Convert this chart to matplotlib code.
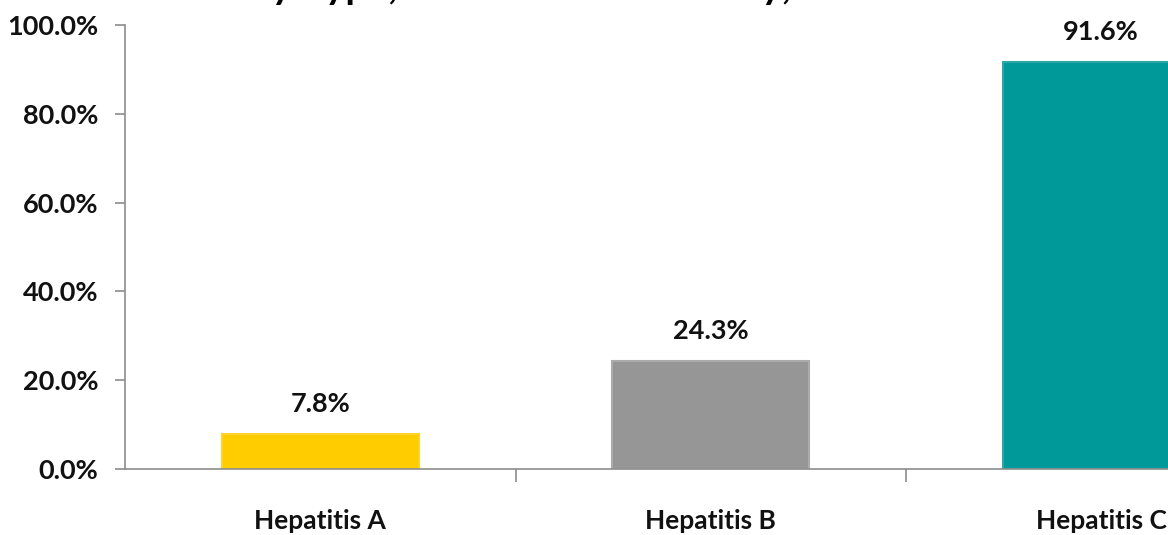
import matplotlib
matplotlib.use("Agg")
import matplotlib.pyplot as plt
from matplotlib.ticker import FuncFormatter, FixedLocator

categories = ["Hepatitis A", "Hepatitis B", "Hepatitis C"]
values = [7.8, 24.3, 91.6]
colors = ["#FFCC00", "#969696", "#009999"]
edge_colors = ["#FFD22E", "#ABABAB", "#2AA8A8"]
yticks = [0, 20, 40, 60, 80, 100]
title = "Hepatitis Awareness by Type, Patients in This Study, 2010"

plt.rcParams["font.family"] = ["Lato", "DejaVu Sans"]

W, H = 1168, 535
fig = plt.figure(figsize=(W / 100, H / 100), dpi=100)
left, bottom, top = 125, 469, 25
slot = 390.5
ax = fig.add_axes([left / W, (H - bottom) / H, 3 * slot / W, (bottom - top) / H])

x = list(range(len(categories)))
ax.bar(x, values, width=0.505, color=colors, edgecolor=edge_colors, linewidth=1.5, zorder=2)

for xi, v in zip(x, values):
    ax.annotate(f"{v:.1f}%", (xi, v), xytext=(0, 13), textcoords="offset points",
                ha="center", va="bottom", fontsize=19.5, fontweight="bold", color="#111111")

ax.set_xlim(-0.5, 2.5)
ax.set_ylim(0, 100)
ax.set_yticks(yticks)
ax.yaxis.set_major_formatter(FuncFormatter(lambda v, p: f"{v:.1f}%"))
ax.set_xticks(x)
ax.set_xticklabels(categories)
ax.xaxis.set_minor_locator(FixedLocator([0.5, 1.5]))

for s in ["top", "right"]:
    ax.spines[s].set_visible(False)
for s in ["left", "bottom"]:
    ax.spines[s].set_color("#8C8C8C")
    ax.spines[s].set_linewidth(1.2)

ax.tick_params(axis="y", direction="out", length=7, width=1.2, color="#8C8C8C",
               labelsize=19.5, pad=12)
ax.tick_params(axis="x", which="major", length=0, labelsize=19, pad=29)
ax.tick_params(axis="x", which="minor", direction="out", length=9, width=1.2, color="#8C8C8C")
for lab in ax.get_yticklabels() + ax.get_xticklabels():
    lab.set_fontweight("bold")
    lab.set_color("#111111")

# title (mostly above the visible area); place so that "by" starts near x=272 px
tfs = 28
renderer = fig.canvas.get_renderer()
probe = fig.text(0, 0, "Hepatitis Awareness b", fontsize=tfs, fontweight="bold")
pre_w = probe.get_window_extent(renderer).width
probe.remove()
fig.text((272 - pre_w) / W, 1 + 1 / H, title, ha="left", va="baseline",
         fontsize=tfs, fontweight="bold", color="black")

fig.savefig("out.png", dpi=100)
